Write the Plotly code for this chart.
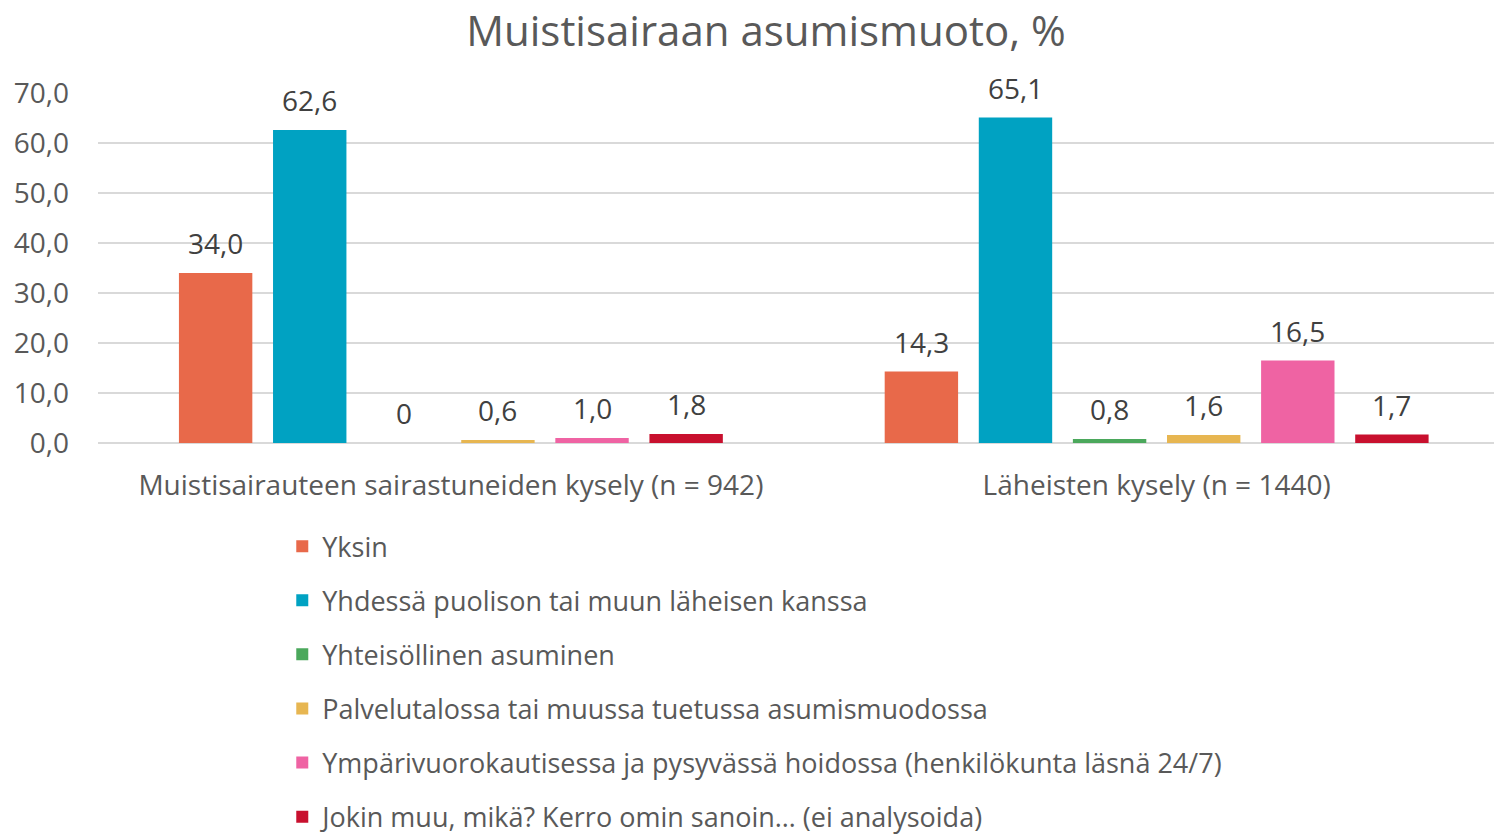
import plotly.graph_objects as go

categories = ["Muistisairauteen sairastuneiden kysely (n = 942)", "Läheisten kysely (n = 1440)"]
series_names = [
    "Yksin",
    "Yhdessä puolison tai muun läheisen kanssa",
    "Yhteisöllinen asuminen",
    "Palvelutalossa tai muussa tuetussa asumismuodossa",
    "Ympärivuorokautisessa ja pysyvässä hoidossa (henkilökunta läsnä 24/7)",
    "Jokin muu, mikä? Kerro omin sanoin… (ei analysoida)",
]
values_yksin = [34.0, 14.3]
values_yhdessa = [62.6, 65.1]
values_yhteis = [0.0, 0.8]
values_palvelu = [0.6, 1.6]
values_ymparivuoro = [1.0, 16.5]
values_muu = [1.8, 1.7]
colors = ["#E8694A", "#00A2C2", "#4BA85C", "#E7B651", "#EF63A3", "#C8102E"]

all_values = [values_yksin, values_yhdessa, values_yhteis, values_palvelu, values_ymparivuoro, values_muu]

def fmt(v):
    if v == 0:
        return "0"
    return f"{v:.1f}".replace(".", ",")

FONT = "Open Sans, Liberation Sans, sans-serif"
BARGAP = 0.20
n_series = len(all_values)
slot = (1 - BARGAP) / n_series

fig = go.Figure()
annotations = []
for i, (name, vals, col) in enumerate(zip(series_names, all_values, colors)):
    fig.add_trace(go.Bar(
        x=list(range(len(categories))), y=vals, name=name,
        marker=dict(color=col, line=dict(width=0)),
        legendgroup=f"g{i}", hoverinfo="name+y",
    ))
    for j, v in enumerate(vals):
        annotations.append(dict(
            x=j + (i - (n_series - 1) / 2) * slot, y=v, xref="x", yref="y",
            text=fmt(v), showarrow=False, yanchor="middle", xanchor="center", yshift=30,
            font=dict(size=28, color="#404040", family=FONT),
        ))

fig.update_layout(
    width=1494, height=837,
    margin=dict(l=98, r=0, t=93, b=394, autoexpand=False),
    paper_bgcolor="white", plot_bgcolor="white",
    barmode="group", bargap=BARGAP, bargroupgap=0.22,
    title=dict(text="Muistisairaan asumismuoto, %", x=0.5127, xanchor="center", y=0.963, yanchor="middle",
               font=dict(size=42, color="#595959", family=FONT)),
    font=dict(family=FONT, color="#595959"),
    showlegend=True,
    legend=dict(orientation="v", x=0.132, xanchor="left", y=-0.226, yanchor="top",
                font=dict(size=27, color="#595959", family=FONT),
                traceorder="grouped", tracegroupgap=16, itemwidth=30),
    annotations=annotations,
)
fig.update_yaxes(range=[0, 70], dtick=10, tickformat=".1f",
                 gridcolor="#D9D9D9", gridwidth=2, zeroline=True, zerolinecolor="#D9D9D9", zerolinewidth=2,
                 tickfont=dict(size=28, color="#595959"), ticks="", ticklabelstandoff=28, showline=False,
                 automargin=False)
fig.update_xaxes(tickmode="array", tickvals=list(range(len(categories))), ticktext=categories,
                 range=[-0.5, 1.478],
                 tickfont=dict(size=28, color="#595959"), ticks="", showline=False, ticklabelstandoff=23,
                 automargin=False, showgrid=False)
fig.update_layout(separators=", ")

fig.write_html("out.html", config={"displayModeBar": False},
               post_script="document.body.style.margin='0';document.body.style.overflow='hidden';")
